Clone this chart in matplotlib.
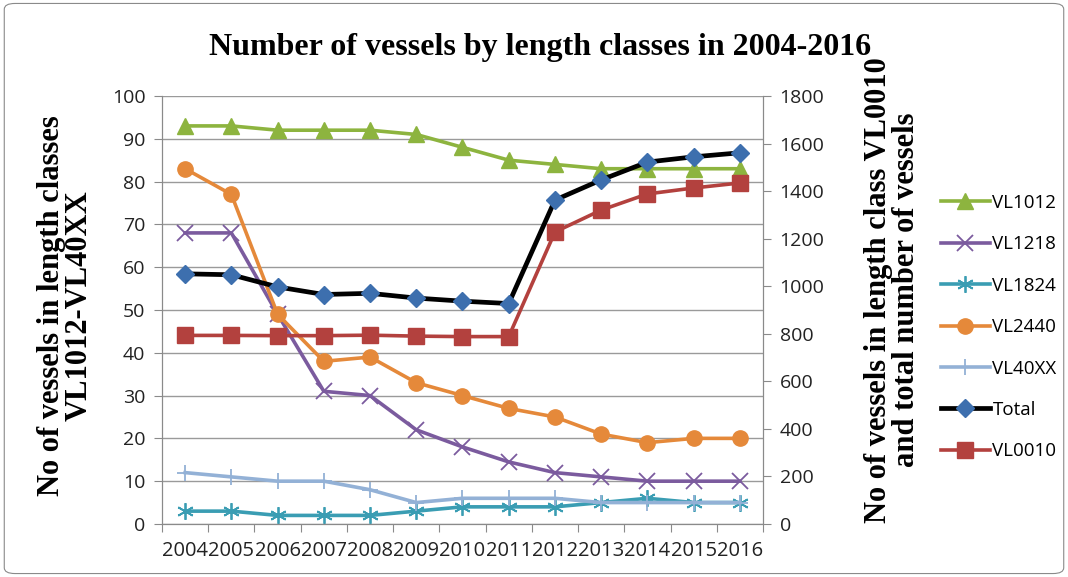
import matplotlib.pyplot as plt
from matplotlib.patches import FancyBboxPatch

years = ['2004', '2005', '2006', '2007', '2008', '2009', '2010',
         '2011', '2012', '2013', '2014', '2015', '2016']

vl1012 = [93, 93, 92, 92, 92, 91, 88, 85, 84, 83, 83, 83, 83]
vl1218 = [68, 68, 49, 31, 30, 22, 18, 14.5, 12, 11, 10, 10, 10]
vl1824 = [3, 3, 2, 2, 2, 3, 4, 4, 4, 5, 6, 5, 5]
vl2440 = [83, 77, 49, 38, 39, 33, 30, 27, 25, 21, 19, 20, 20]
vl40xx = [12, 11, 10, 10, 8, 5, 6, 6, 6, 5, 5, 5, 5]
total = [1052, 1048, 997, 965, 970, 950, 937, 927, 1362, 1447, 1522, 1544, 1561]
vl0010 = [793, 793, 792, 792, 794, 790, 788, 788, 1228, 1320, 1388, 1413, 1434]

tickfont = 'Open Sans'
serif = 'Liberation Serif'

fig = plt.figure(figsize=(10.68, 5.77), dpi=100)
fig.patches.append(FancyBboxPatch((0.004, 0.006), 0.992, 0.988,
                                  boxstyle='round,pad=0,rounding_size=0.01',
                                  transform=fig.transFigure, fill=False,
                                  ec='#8a8a8a', lw=0.8))

ax = fig.add_axes([0.1517, 0.0919, 0.5627, 0.7418])
ax2 = ax.twinx()
x = list(range(len(years)))

lw = 2.6
h = []
h += ax.plot(x, vl1012, color='#8db43f', lw=lw, marker='^', ms=11, label='VL1012')
h += ax.plot(x, vl1218, color='#7b5b9e', lw=lw, marker='x', ms=11, mew=1.3, label='VL1218')
h += ax.plot(x, vl1824, color='#3a9db3', lw=lw, marker=(6, 2, 0), ms=12, mew=1.3, label='VL1824')
h += ax.plot(x, vl2440, color='#e5893a', lw=lw, marker='o', ms=11, label='VL2440')
h += ax.plot(x, vl40xx, color='#93b1d6', lw=lw, marker='+', ms=12, mew=1.3, label='VL40XX')
h += ax2.plot(x, total, color='black', lw=3.4, marker='D', ms=9.5, mfc='#3d6fae',
              mec='#3d6fae', label='Total')
h += ax2.plot(x, vl0010, color='#b3413e', lw=lw, marker='s', ms=11, mfc='#b3413e',
              mec='#b3413e', label='VL0010')

ax.set_xlim(-0.5, len(years) - 0.5)
ax.set_ylim(0, 100)
ax2.set_ylim(0, 1800)
ax.set_yticks(range(0, 101, 10))
ax2.set_yticks(range(0, 1801, 200))
ax.set_xticks([i - 0.5 for i in range(len(years) + 1)], minor=False)
ax.set_xticklabels([])
ax.set_xticks(x, minor=True)
ax.set_xticklabels(years, minor=True, fontsize=14.5, family=tickfont, color='#222222')
ax.tick_params(axis='x', which='minor', length=0, pad=12)
ax.tick_params(axis='x', which='major', length=6, color='#8a8a8a', direction='out')
ax.tick_params(axis='y', length=6, color='#8a8a8a', labelsize=14, pad=6)
ax2.tick_params(axis='y', length=6, color='#8a8a8a', labelsize=14, pad=6)
for lab in ax.get_yticklabels() + ax2.get_yticklabels():
    lab.set_family(tickfont)
    lab.set_color('#222222')

ax.grid(axis='y', color='#9a9a9a', lw=1)
ax.set_axisbelow(True)
for a in (ax, ax2):
    a.spines['top'].set_visible(False)
    a.spines['left'].set_color('#8a8a8a')
    a.spines['right'].set_color('#8a8a8a')
    a.spines['bottom'].set_color('#8a8a8a')

fig.text(0.506, 0.917, 'Number of vessels by length classes in 2004-2016',
         ha='center', va='center', fontsize=23, weight='bold', family=serif)
fig.text(0.061, 0.471, 'No of vessels in length classes\nVL1012-VL40XX', rotation=90,
         ha='center', va='center', fontsize=22, weight='bold', family=serif,
         linespacing=0.95)
fig.text(0.836, 0.497, 'No of vessels in length class VL0010\nand total number of vessels',
         rotation=90, ha='center', va='center', fontsize=22, weight='bold', family=serif,
         linespacing=0.95)

fig.legend(handles=h, loc='center left', bbox_to_anchor=(0.874, 0.433), frameon=False,
           prop={'family': tickfont, 'size': 13.5}, labelspacing=1.25,
           handlelength=2.6, handletextpad=0.15, borderaxespad=0)

fig.savefig('out.png', dpi=100)
